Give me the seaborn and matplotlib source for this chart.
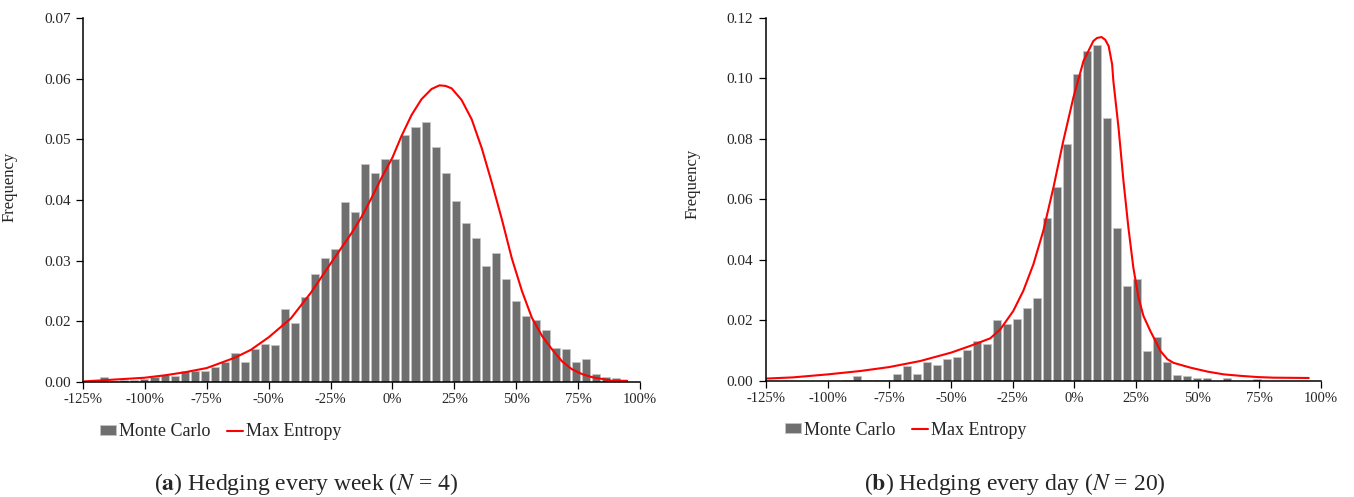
import numpy as np
import matplotlib
matplotlib.use("Agg")
import matplotlib.pyplot as plt
import seaborn as sns

# return buckets (bin centres, %), shared by both panels
bin_centers = np.linspace(-116.4, 90.4, 52)

# (a) weekly hedging, N = 4 -- Monte Carlo histogram (values as read on the printed axis)
mc_week = [
    0.0108, 0.0101, 0.0103, 0.0104, 0.0105, 0.0108, 0.0111, 0.0110, 0.0118, 0.0118,
    0.0118, 0.0124, 0.0133, 0.0147, 0.0133, 0.0154, 0.0162, 0.0161, 0.0221, 0.0198,
    0.0240, 0.0278, 0.0304, 0.0320, 0.0397, 0.0381, 0.0459, 0.0444, 0.0468, 0.0468,
    0.0507, 0.0521, 0.0529, 0.0487, 0.0444, 0.0398, 0.0362, 0.0337, 0.0291, 0.0312,
    0.0270, 0.0233, 0.0208, 0.0202, 0.0186, 0.0156, 0.0155, 0.0133, 0.0138, 0.0114,
    0.0109, 0.0107,
]
# (a) max entropy density
me_week_x = [-124.5, -116.4, -108.3, -100.2, -92.0, -83.9, -75.0, -63.7, -57.2, -49.9,
             -41.0, -32.8, -24.7, -16.6, -12.5, -8.5, -4.5, 0.0, 3.6, 7.7,
             11.7, 15.8, 19.0, 21.5, 23.9, 27.9, 32.0, 36.1, 40.1, 44.2,
             48.2, 52.3, 56.3, 60.4, 64.4, 68.5, 72.5, 76.6, 80.6, 84.7,
             88.7, 94.8]
me_week_y = [0.0101, 0.0103, 0.0105, 0.0107, 0.0111, 0.0116, 0.0123, 0.0140, 0.0153, 0.0174,
             0.0205, 0.0248, 0.0297, 0.0345, 0.0372, 0.0403, 0.0436, 0.0470, 0.0505, 0.0540,
             0.0566, 0.0583, 0.0589, 0.0588, 0.0584, 0.0565, 0.0533, 0.0485, 0.0429, 0.0368,
             0.0304, 0.0250, 0.0206, 0.0176, 0.0154, 0.0134, 0.0121, 0.0113, 0.0108, 0.0105,
             0.0102, 0.0102]

# (b) daily hedging, N = 20 -- Monte Carlo histogram
mc_day = [
    0.0, 0.0, 0.0, 0.0, 0.0, 0.0, 0.0003, 0.0017, 0.0003, 0.0003,
    0.0003, 0.0022, 0.0049, 0.0024, 0.0064, 0.0054, 0.0074, 0.0080, 0.0101, 0.0132,
    0.0123, 0.0202, 0.0190, 0.0206, 0.0242, 0.0275, 0.0540, 0.0642, 0.0782, 0.1016,
    0.1090, 0.1110, 0.0870, 0.0505, 0.0314, 0.0338, 0.0099, 0.0146, 0.0064, 0.0020,
    0.0015, 0.0010, 0.0010, 0.0, 0.0010, 0.0, 0.0, 0.0008, 0.0, 0.0,
    0.0, 0.0,
]
# (b) max entropy density
me_day_x = [-125.0, -114.0, -99.8, -86.8, -75.1, -62.5, -49.9, -42.2, -34.1, -30.0,
            -24.8, -20.7, -16.6, -12.6, -8.5, -4.5, -0.4, 3.7, 7.7, 9.2,
            11.0, 12.5, 13.9, 15.3, 15.8, 17.9, 19.9, 21.9, 23.9, 26.0,
            28.0, 30.8, 32.9, 34.9, 37.7, 40.2, 47.1, 54.0, 60.5, 67.4,
            74.3, 80.8, 95.0]
me_day_y = [0.0008, 0.0012, 0.0022, 0.0033, 0.0046, 0.0066, 0.0094, 0.0116, 0.0141, 0.0171,
            0.0231, 0.0298, 0.0386, 0.0496, 0.0639, 0.0793, 0.0937, 0.1058, 0.1124, 0.1134,
            0.1137, 0.1128, 0.1107, 0.1047, 0.0992, 0.0837, 0.0661, 0.0507, 0.0375, 0.0275,
            0.0215, 0.0165, 0.0132, 0.0099, 0.0072, 0.0060, 0.0044, 0.0031, 0.0022, 0.0017,
            0.0013, 0.0011, 0.0010]

xtick_vals = [-125, -100, -75, -50, -25, 0, 25, 50, 75, 100]
xtick_labels = [f"{v}%" for v in xtick_vals]
week_yticks = [0.01, 0.02, 0.03, 0.04, 0.05, 0.06, 0.07]
week_ylabels = ["0.00", "0.02", "0.03", "0.04", "0.05", "0.06", "0.07"]
day_yticks = [0.0, 0.02, 0.04, 0.06, 0.08, 0.10, 0.12]
day_ylabels = ["0.00", "0.02", "0.04", "0.06", "0.08", "0.10", "0.12"]

sns.set_style("ticks")
plt.rcParams["font.family"] = ["Liberation Serif", "DejaVu Serif"]
plt.rcParams["mathtext.fontset"] = "stix"

BAR = "#6f6f6f"
RED = "#ff0000"

fig = plt.figure(figsize=(13.54, 4.97), dpi=100)
ax1 = fig.add_axes([0.0613, 0.2314, 0.4114, 0.7324])
ax2 = fig.add_axes([0.5657, 0.2334, 0.4100, 0.7304])


def draw_panel(ax, bars, lx, ly, ylim, yticks, ylabels, label_y, leg_xy):
    sns.barplot(x=bin_centers, y=bars, native_scale=True, color=BAR, saturation=1,
                width=0.8, edgecolor="#c4c4c4", linewidth=0.6, errorbar=None,
                label="Monte Carlo", ax=ax)
    sns.lineplot(x=lx, y=ly, color=RED, lw=1.5, label="Max Entropy", ax=ax)
    ax.set_xlim(-125, 100)
    ax.set_ylim(*ylim)
    ax.set_xticks(xtick_vals)
    ax.set_xticklabels(xtick_labels)
    ax.set_yticks(yticks)
    ax.set_yticklabels(ylabels)
    ax.tick_params(axis="x", labelsize=10.5, length=5, width=0.9, pad=3, color="black")
    ax.tick_params(axis="y", labelsize=11, length=5, width=0.9, pad=4, color="black")
    for s in ["top", "right"]:
        ax.spines[s].set_visible(False)
    for s in ["left", "bottom"]:
        ax.spines[s].set_color("black")
        ax.spines[s].set_linewidth(1.1)
    ax.set_xlabel("")
    ax.set_ylabel("Frequency", fontsize=12)
    ax.yaxis.set_label_coords(-0.118, label_y)
    handles, labels = ax.get_legend_handles_labels()
    order = [labels.index("Monte Carlo"), labels.index("Max Entropy")]
    ax.legend([handles[i] for i in order], [labels[i] for i in order],
              loc="center left", bbox_to_anchor=leg_xy,
              bbox_transform=fig.transFigure, ncol=2, frameon=False, fontsize=13,
              handlelength=0.9, handleheight=0.5, handletextpad=0.15,
              columnspacing=0.9, borderpad=0, borderaxespad=0)


draw_panel(ax1, mc_week, me_week_x, me_week_y, (0.01, 0.07), week_yticks, week_ylabels,
           0.536, (0.0739, 0.1308))
draw_panel(ax2, mc_day, me_day_x, me_day_y, (0.0, 0.12), day_yticks, day_ylabels,
           0.543, (0.5798, 0.1348))

fig.text(0.226, 0.026, r"($\mathbf{a}$) Hedging every week ($N$ = 4)", ha="center",
         va="center", fontsize=17)
fig.text(0.7497, 0.026, r"($\mathbf{b}$) Hedging every day ($N$ = 20)", ha="center",
         va="center", fontsize=17)

fig.savefig("out.png", dpi=100)
